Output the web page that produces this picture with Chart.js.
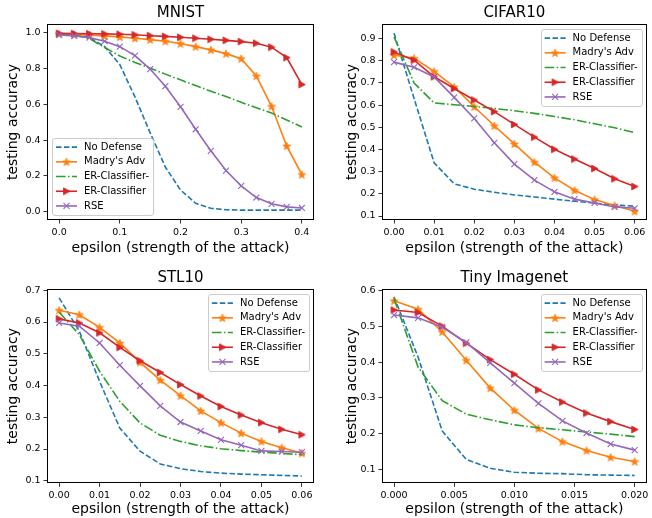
<!DOCTYPE html>
<html>
<head>
<meta charset="utf-8">
<script src="https://cdn.jsdelivr.net/npm/chart.js@4.4.1/dist/chart.umd.min.js"></script>
<style>
  body { margin: 0; background: #fff; width: 652px; height: 518px; position: relative; overflow: hidden; }
  canvas { position: absolute; }
</style>
</head>
<body>
<canvas id="mnist" width="326" height="259" style="left:0;top:0"></canvas>
<canvas id="cifar" width="326" height="259" style="left:326px;top:0"></canvas>
<canvas id="stl" width="326" height="253" style="left:0;top:265px"></canvas>
<canvas id="tiny" width="326" height="253" style="left:326px;top:265px"></canvas>
<script>
// ---------------- Data -----------------------

const seriesLabels = ["No Defense", "Madry's Adv", "ER-Classifier-", "ER-Classifier", "RSE"];

const mnistEps = [0, 0.025, 0.05, 0.075, 0.1, 0.125, 0.15, 0.175, 0.2, 0.225, 0.25, 0.275, 0.3, 0.325, 0.35, 0.375, 0.4];
const mnistNoDefense = [0.99, 0.985, 0.97, 0.92, 0.82, 0.64, 0.44, 0.25, 0.122, 0.048, 0.02, 0.012, 0.01, 0.01, 0.01, 0.01, 0.01];
const mnistMadry = [0.99, 0.987, 0.984, 0.98, 0.974, 0.967, 0.959, 0.95, 0.937, 0.92, 0.902, 0.881, 0.853, 0.757, 0.588, 0.367, 0.208];
const mnistERminus = [0.99, 0.985, 0.965, 0.915, 0.868, 0.832, 0.80, 0.767, 0.735, 0.703, 0.672, 0.642, 0.61, 0.58, 0.55, 0.512, 0.473];
const mnistER = [0.994, 0.993, 0.992, 0.991, 0.989, 0.986, 0.981, 0.977, 0.972, 0.967, 0.961, 0.955, 0.948, 0.939, 0.917, 0.859, 0.709];
const mnistRSE = [0.985, 0.98, 0.97, 0.95, 0.92, 0.87, 0.795, 0.70, 0.585, 0.46, 0.34, 0.23, 0.145, 0.08, 0.045, 0.028, 0.022];
const mnistXTicks = [0, 0.1, 0.2, 0.3, 0.4];
const mnistYTicks = [0, 0.2, 0.4, 0.6, 0.8, 1.0];

const cifarEps = [0, 0.005, 0.01, 0.015, 0.02, 0.025, 0.03, 0.035, 0.04, 0.045, 0.05, 0.055, 0.06];
const cifarNoDefense = [0.924, 0.63, 0.34, 0.245, 0.221, 0.207, 0.195, 0.186, 0.176, 0.167, 0.158, 0.150, 0.144];
const cifarMadry = [0.826, 0.811, 0.752, 0.682, 0.593, 0.507, 0.425, 0.343, 0.272, 0.216, 0.174, 0.147, 0.121];
const cifarERminus = [0.908, 0.70, 0.61, 0.602, 0.594, 0.585, 0.575, 0.563, 0.549, 0.534, 0.516, 0.498, 0.476];
const cifarER = [0.840, 0.803, 0.728, 0.675, 0.623, 0.571, 0.513, 0.456, 0.401, 0.357, 0.314, 0.268, 0.233];
const cifarRSE = [0.794, 0.771, 0.727, 0.635, 0.540, 0.430, 0.334, 0.262, 0.209, 0.176, 0.159, 0.141, 0.135];
const cifarXTicks = [0, 0.01, 0.02, 0.03, 0.04, 0.05, 0.06];
const cifarYTicks = [0.1, 0.2, 0.3, 0.4, 0.5, 0.6, 0.7, 0.8, 0.9];

const stlEps = [0, 0.005, 0.01, 0.015, 0.02, 0.025, 0.03, 0.035, 0.04, 0.045, 0.05, 0.055, 0.06];
const stlNoDefense = [0.676, 0.571, 0.413, 0.266, 0.193, 0.153, 0.138, 0.129, 0.124, 0.121, 0.119, 0.117, 0.115];
const stlMadry = [0.637, 0.623, 0.583, 0.534, 0.473, 0.417, 0.368, 0.320, 0.283, 0.250, 0.224, 0.204, 0.187];
const stlERminus = [0.631, 0.56, 0.445, 0.35, 0.282, 0.243, 0.224, 0.210, 0.201, 0.195, 0.190, 0.186, 0.182];
const stlER = [0.610, 0.597, 0.566, 0.520, 0.478, 0.441, 0.403, 0.367, 0.334, 0.307, 0.283, 0.262, 0.245];
const stlRSE = [0.597, 0.587, 0.534, 0.464, 0.399, 0.336, 0.285, 0.257, 0.229, 0.212, 0.194, 0.192, 0.190];
const stlXTicks = [0, 0.01, 0.02, 0.03, 0.04, 0.05, 0.06];
const stlYTicks = [0.1, 0.2, 0.3, 0.4, 0.5, 0.6, 0.7];

const tinyEps = [0, 0.002, 0.004, 0.006, 0.008, 0.01, 0.012, 0.014, 0.016, 0.018, 0.02];
const tinyNoDefense = [0.583, 0.414, 0.207, 0.127, 0.102, 0.091, 0.088, 0.087, 0.084, 0.083, 0.082];
const tinyMadry = [0.572, 0.548, 0.485, 0.405, 0.327, 0.265, 0.214, 0.177, 0.152, 0.133, 0.121];
const tinyERminus = [0.578, 0.386, 0.292, 0.254, 0.238, 0.224, 0.216, 0.210, 0.204, 0.198, 0.191];
const tinyER = [0.546, 0.539, 0.501, 0.453, 0.407, 0.366, 0.322, 0.288, 0.257, 0.233, 0.211];
const tinyRSE = [0.532, 0.524, 0.498, 0.455, 0.398, 0.341, 0.284, 0.235, 0.201, 0.170, 0.153];
const tinyXTicks = [0, 0.005, 0.01, 0.015, 0.02];
const tinyYTicks = [0.1, 0.2, 0.3, 0.4, 0.5, 0.6];

// ---------------- Styles -----------------------

const FONT = '"DejaVu Sans", sans-serif';

function starMarker(color) {
  const c = document.createElement("canvas");
  c.width = c.height = 10;
  const g = c.getContext("2d");
  g.beginPath();
  for (let i = 0; i < 10; i++) {
    const r = i % 2 ? 1.7 : 4.1;
    const a = -Math.PI / 2 + i * Math.PI / 5;
    g.lineTo(5 + r * Math.cos(a), 5.4 + r * Math.sin(a));
  }
  g.closePath();
  g.fillStyle = color;
  g.fill();
  g.strokeStyle = color;
  g.lineWidth = 0.8;
  g.stroke();
  return c;
}

function triMarker(color) {
  const c = document.createElement("canvas");
  c.width = c.height = 9;
  const g = c.getContext("2d");
  g.beginPath();
  g.moveTo(8, 4.5);
  g.lineTo(1.5, 1.1);
  g.lineTo(1.5, 7.9);
  g.closePath();
  g.fillStyle = color;
  g.fill();
  g.strokeStyle = color;
  g.lineWidth = 0.8;
  g.stroke();
  return c;
}

const styles = [
  { color: "#1f77b4", dash: [5.5, 2.4], point: null },
  { color: "#ff7f0e", dash: [], point: starMarker("#ff7f0e") },
  { color: "#2ca02c", dash: [9.6, 2.4, 1.5, 2.4], point: null },
  { color: "#d62728", dash: [], point: triMarker("#d62728") },
  { color: "#9467bd", dash: [], point: "crossRot" }
];

// ---------------- Plugins -----------------------

function drawMarker(ctx, style, x, y) {
  if (!style.point) return;
  if (style.point === "crossRot") {
    const r = 3;
    ctx.strokeStyle = style.color;
    ctx.lineWidth = 1.1;
    ctx.setLineDash([]);
    ctx.beginPath();
    ctx.moveTo(x - r, y - r); ctx.lineTo(x + r, y + r);
    ctx.moveTo(x - r, y + r); ctx.lineTo(x + r, y - r);
    ctx.stroke();
  } else {
    ctx.drawImage(style.point, x - style.point.width / 2, y - style.point.height / 2);
  }
}

const frameAndLegend = {
  id: "frameAndLegend",
  afterDraw(chart, args, opts) {
    const ctx = chart.ctx;
    const a = chart.chartArea;
    ctx.save();
    ctx.strokeStyle = "#000";
    ctx.lineWidth = 1;
    ctx.strokeRect(Math.round(a.left) + 0.5, Math.round(a.top) + 0.5,
      Math.round(a.right - a.left) - 1, Math.round(a.bottom - a.top) - 1);

    // legend box
    ctx.font = "10px " + FONT;
    const rowH = 14.7;
    const textW = Math.max(...seriesLabels.map((t) => ctx.measureText(t).width));
    const w = 4 + 21 + 7 + textW + 4;
    const h = seriesLabels.length * rowH + 3.5;
    const x = opts.corner === "lower left" ? a.left + 5 : a.right - 5 - w;
    const y = opts.corner === "lower left" ? a.bottom - 5 - h : a.top + 5;
    ctx.beginPath();
    ctx.roundRect(Math.round(x) + 0.5, Math.round(y) + 0.5, Math.round(w), Math.round(h), 2.5);
    ctx.fillStyle = "rgba(255,255,255,0.8)";
    ctx.fill();
    ctx.strokeStyle = "#cccccc";
    ctx.stroke();

    seriesLabels.forEach((label, i) => {
      const st = styles[i];
      const cy = y + 1.8 + rowH * (i + 0.5);
      ctx.strokeStyle = st.color;
      ctx.lineWidth = 1.6;
      ctx.setLineDash(st.dash);
      ctx.beginPath();
      ctx.moveTo(x + 4, cy);
      ctx.lineTo(x + 25, cy);
      ctx.stroke();
      ctx.setLineDash([]);
      drawMarker(ctx, st, x + 14.5, cy);
      ctx.fillStyle = "#000";
      ctx.textBaseline = "middle";
      ctx.textAlign = "left";
      ctx.fillText(label, x + 32, cy);
    });
    ctx.restore();
  }
};

// ---------------- Chart Builders -----------------------

function buildPanel(id, p) {
  const datasets = p.series.map((ys, i) => {
    const st = styles[i];
    return {
      label: seriesLabels[i],
      data: ys.map((y, j) => ({ x: p.eps[j], y })),
      borderColor: st.color,
      backgroundColor: st.color,
      borderWidth: 1.6,
      borderDash: st.dash,
      pointStyle: st.point || "circle",
      pointRadius: st.point ? (st.point === "crossRot" ? 4.2 : 4) : 0,
      pointBorderColor: st.color,
      pointBackgroundColor: st.color,
      pointBorderWidth: 1.1,
      tension: 0,
      fill: false,
      order: 5 - i
    };
  });

  const tickFont = { family: FONT, size: 9.5 };
  const titleFont = { family: FONT, size: 14 };

  new Chart(document.getElementById(id), {
    type: "line",
    data: { datasets },
    plugins: [frameAndLegend],
    options: {
      responsive: false,
      animation: false,
      events: [],
      layout: { padding: { left: p.padLeft, right: p.padRight, top: 0, bottom: 0 } },
      plugins: {
        legend: { display: false },
        tooltip: { enabled: false },
        title: {
          display: true,
          text: p.title,
          fullSize: false,
          color: "#000",
          font: { family: FONT, size: 15, weight: "normal" },
          padding: { top: 4, bottom: 2 }
        },
        frameAndLegend: { corner: p.legend }
      },
      scales: {
        x: {
          type: "linear",
          min: p.xMin,
          max: p.xMax,
          afterBuildTicks: (axis) => { axis.ticks = p.xTicks.map((v) => ({ value: v })); },
          afterFit: (axis) => { axis.height = p.xAxisH; axis.paddingLeft = 0; axis.paddingRight = 0; },
          ticks: {
            autoSkip: false, maxRotation: 0, padding: 3, color: "#000", font: tickFont,
            callback: (v) => Number(v).toFixed(p.xDec)
          },
          grid: { display: true, drawOnChartArea: false, drawTicks: true, tickLength: 3.5, tickWidth: 0.8, color: "#000", tickColor: "#000" },
          border: { display: false },
          title: { display: true, text: "epsilon (strength of the attack)", color: "#000", font: titleFont, padding: { top: 0, bottom: p.xTitlePad } }
        },
        y: {
          type: "linear",
          min: p.yMin,
          max: p.yMax,
          afterBuildTicks: (axis) => { axis.ticks = p.yTicks.map((v) => ({ value: v })); },
          afterFit: (axis) => { axis.width = p.yAxisW; axis.paddingTop = 0; axis.paddingBottom = 0; },
          ticks: {
            autoSkip: false, padding: 3, color: "#000", font: tickFont,
            callback: (v) => Number(v).toFixed(1)
          },
          grid: { display: true, drawOnChartArea: false, drawTicks: true, tickLength: 3.5, tickWidth: 0.8, color: "#000", tickColor: "#000" },
          border: { display: false },
          title: { display: true, text: "testing accuracy", color: "#000", font: titleFont, padding: { top: 4.5, bottom: 0 } }
        }
      }
    }
  });
}

buildPanel("mnist", {
  title: "MNIST", eps: mnistEps,
  series: [mnistNoDefense, mnistMadry, mnistERminus, mnistER, mnistRSE],
  xMin: -0.02, xMax: 0.42, yMin: -0.045, yMax: 1.046,
  xTicks: mnistXTicks, yTicks: mnistYTicks, xDec: 1,
  padLeft: 0, padRight: 12, yAxisW: 47, xAxisH: 39, xTitlePad: 2, legend: "lower left"
});

buildPanel("cifar", {
  title: "CIFAR10", eps: cifarEps,
  series: [cifarNoDefense, cifarMadry, cifarERminus, cifarER, cifarRSE],
  xMin: -0.003, xMax: 0.063, yMin: 0.082, yMax: 0.966,
  xTicks: cifarXTicks, yTicks: cifarYTicks, xDec: 2,
  padLeft: 13, padRight: 2.5, yAxisW: 43, xAxisH: 39, xTitlePad: 2, legend: "upper right"
});

buildPanel("stl", {
  title: "STL10", eps: stlEps,
  series: [stlNoDefense, stlMadry, stlERminus, stlER, stlRSE],
  xMin: -0.003, xMax: 0.063, yMin: 0.092, yMax: 0.704,
  xTicks: stlXTicks, yTicks: stlYTicks, xDec: 2,
  padLeft: 0, padRight: 12, yAxisW: 47, xAxisH: 34.7, xTitlePad: 0, legend: "upper right"
});

buildPanel("tiny", {
  title: "Tiny Imagenet", eps: tinyEps,
  series: [tinyNoDefense, tinyMadry, tinyERminus, tinyER, tinyRSE],
  xMin: -0.001, xMax: 0.021, yMin: 0.060, yMax: 0.605,
  xTicks: tinyXTicks, yTicks: tinyYTicks, xDec: 3,
  padLeft: 13, padRight: 2.5, yAxisW: 43, xAxisH: 34.7, xTitlePad: 0, legend: "upper right"
});
</script>
</body>
</html>
